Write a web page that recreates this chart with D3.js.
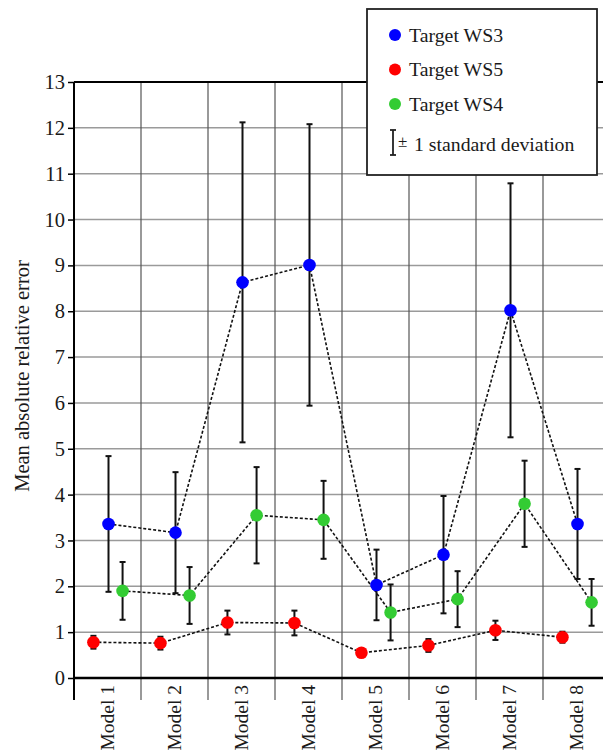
<!DOCTYPE html>
<html>
<head>
<meta charset="utf-8">
<script src="https://cdn.jsdelivr.net/npm/d3@7"></script>
<style>
  body { margin: 0; background: #fff; }
  svg { display: block; font-family: "Liberation Serif", "DejaVu Serif", serif; }
</style>
</head>
<body>
<svg id="chart" width="603" height="754"></svg>
<script>
// values
let models = ['Model 1', 'Model 2', 'Model 3', 'Model 4', 'Model 5', 'Model 6', 'Model 7', 'Model 8']
let yTicks = [0, 1, 2, 3, 4, 5, 6, 7, 8, 9, 10, 11, 12, 13]

let ws3Mean = [3.36, 3.17, 8.63, 9.01, 2.03, 2.69, 8.02, 3.36]
let ws3Sd   = [1.48, 1.32, 3.49, 3.07, 0.77, 1.28, 2.77, 1.20]

let ws5Mean = [0.78, 0.76, 1.21, 1.20, 0.55, 0.71, 1.04, 0.89]
let ws5Sd   = [0.14, 0.14, 0.26, 0.27, 0.08, 0.14, 0.21, 0.12]

let ws4Mean = [1.90, 1.80, 3.55, 3.45, 1.43, 1.72, 3.80, 1.65]
let ws4Sd   = [0.63, 0.62, 1.05, 0.85, 0.61, 0.61, 0.94, 0.51]

let seriesNames = ['Target WS3', 'Target WS5', 'Target WS4']
let seriesColors = ['#0000ff', '#ff0000', '#33cc33']

let margin = {top: 82, left: 74, bottom: 76}
let plotRight = 610 // the plot runs past the right edge of the picture
let height = 754

let svg = d3.select('#chart')

let x = d3.scaleBand()
    .domain(models)
    .range([margin.left, plotRight])

let y = d3.scaleLinear()
    .domain([0, 13])
    .range([height - margin.bottom, margin.top])

// offset of each series inside a model's column
let offsets = [0.015, -0.21, 0.225] // WS3, WS5, WS4 as a share of band width

let series = [
    {name: seriesNames[0], color: seriesColors[0], mean: ws3Mean, sd: ws3Sd, off: offsets[0]},
    {name: seriesNames[1], color: seriesColors[1], mean: ws5Mean, sd: ws5Sd, off: offsets[1]},
    {name: seriesNames[2], color: seriesColors[2], mean: ws4Mean, sd: ws4Sd, off: offsets[2]}
]

// horizontal grid
svg.append('g')
    .selectAll('line')
    .data(yTicks.slice(1, -1))
    .enter().append('line')
    .attr('x1', margin.left)
    .attr('x2', plotRight)
    .attr('y1', d => y(d))
    .attr('y2', d => y(d))
    .attr('stroke', '#9a9a9a')
    .attr('stroke-width', 1.5)

// vertical grid, runs down past the axis like long ticks
svg.append('g')
    .selectAll('line')
    .data(models.slice(1))
    .enter().append('line')
    .attr('x1', d => x(d))
    .attr('x2', d => x(d))
    .attr('y1', margin.top)
    .attr('y2', y(0) + 22)
    .attr('stroke', '#555')
    .attr('stroke-width', 1.2)

// top frame line
svg.append('line')
    .attr('x1', margin.left).attr('x2', plotRight)
    .attr('y1', y(13)).attr('y2', y(13))
    .attr('stroke', '#000').attr('stroke-width', 2)

// y axis
let yAxis = svg.append('g')
    .attr('transform', 'translate(' + margin.left + ',0)')
    .call(d3.axisLeft(y).tickValues(yTicks).tickSize(6).tickPadding(3).tickFormat(d3.format('d')))
yAxis.select('.domain').remove()
yAxis.selectAll('.tick line').attr('stroke', '#000').attr('stroke-width', 1.5)
yAxis.selectAll('.tick text')
    .style('font-size', '20.5px')
    .style('font-family', '"Liberation Serif", serif')
    .attr('fill', '#1a1a1a')

svg.append('line')
    .attr('x1', margin.left).attr('x2', margin.left)
    .attr('y1', margin.top).attr('y2', y(0) + 22)
    .attr('stroke', '#000').attr('stroke-width', 2)

// x axis line
svg.append('line')
    .attr('x1', margin.left).attr('x2', plotRight)
    .attr('y1', y(0)).attr('y2', y(0))
    .attr('stroke', '#000').attr('stroke-width', 2.5)

// model labels, rotated
svg.append('g')
    .selectAll('text')
    .data(models)
    .enter().append('text')
    .attr('transform', d => 'translate(' + (x(d) + x.bandwidth() / 2) + ',685) rotate(-90)')
    .attr('text-anchor', 'end')
    .attr('dy', '0.35em')
    .style('font-size', '19.5px')
    .attr('fill', '#1a1a1a')
    .text(d => d)

// y label
svg.append('text')
    .attr('transform', 'translate(22,376) rotate(-90)')
    .attr('text-anchor', 'middle')
    .attr('dy', '0.35em')
    .style('font-size', '20.5px')
    .attr('fill', '#1a1a1a')
    .text('Mean absolute relative error')

let px = (s, i) => x(models[i]) + x.bandwidth() / 2 + s.off * x.bandwidth()

// dashed connecting lines
series.forEach(s => {
    let line = d3.line()
        .x((d, i) => px(s, i))
        .y(d => y(d))
    svg.append('path')
        .datum(s.mean)
        .attr('d', line)
        .attr('fill', 'none')
        .attr('stroke', '#111')
        .attr('stroke-width', 1.6)
        .attr('stroke-dasharray', '3,2')
})

// error bars
series.forEach(s => {
    let g = svg.append('g').attr('stroke', '#111').attr('stroke-width', 2)
    s.mean.forEach((m, i) => {
        let cx = px(s, i)
        let top = y(m + s.sd[i])
        let bot = y(m - s.sd[i])
        g.append('line').attr('x1', cx).attr('x2', cx).attr('y1', top).attr('y2', bot)
        g.append('line').attr('x1', cx - 3).attr('x2', cx + 3).attr('y1', top).attr('y2', top)
        g.append('line').attr('x1', cx - 3).attr('x2', cx + 3).attr('y1', bot).attr('y2', bot)
    })
})

// points
series.forEach(s => {
    svg.append('g')
        .selectAll('circle')
        .data(s.mean)
        .enter().append('circle')
        .attr('cx', (d, i) => px(s, i))
        .attr('cy', d => y(d))
        .attr('r', 6.3)
        .attr('fill', s.color)
})

// legend
let legend = svg.append('g')
legend.append('rect')
    .attr('x', 367).attr('y', 9)
    .attr('width', 230).attr('height', 166)
    .attr('fill', '#fff')
    .attr('stroke', '#222')
    .attr('stroke-width', 1.8)

let legendY = d3.scalePoint().domain(seriesNames).range([35, 104])
series.forEach(s => {
    legend.append('circle')
        .attr('cx', 395).attr('cy', legendY(s.name))
        .attr('r', 6).attr('fill', s.color)
    legend.append('text')
        .attr('x', 409).attr('y', legendY(s.name))
        .attr('dy', '0.35em')
        .style('font-size', '19.8px')
        .attr('fill', '#1a1a1a')
        .text(s.name)
})
let eb = legend.append('g').attr('stroke', '#222').attr('stroke-width', 1.8)
eb.append('line').attr('x1', 393).attr('x2', 393).attr('y1', 130).attr('y2', 155)
eb.append('line').attr('x1', 390).attr('x2', 396).attr('y1', 130).attr('y2', 130)
eb.append('line').attr('x1', 390).attr('x2', 396).attr('y1', 155).attr('y2', 155)
legend.append('text')
    .attr('x', 398).attr('y', 141)
    .attr('dy', '0.35em')
    .style('font-size', '17px')
    .attr('fill', '#1a1a1a')
    .text('±')
legend.append('text')
    .attr('x', 414).attr('y', 144)
    .attr('dy', '0.35em')
    .style('font-size', '19.8px')
    .attr('fill', '#1a1a1a')
    .text('1 standard deviation')
</script>
</body>
</html>
